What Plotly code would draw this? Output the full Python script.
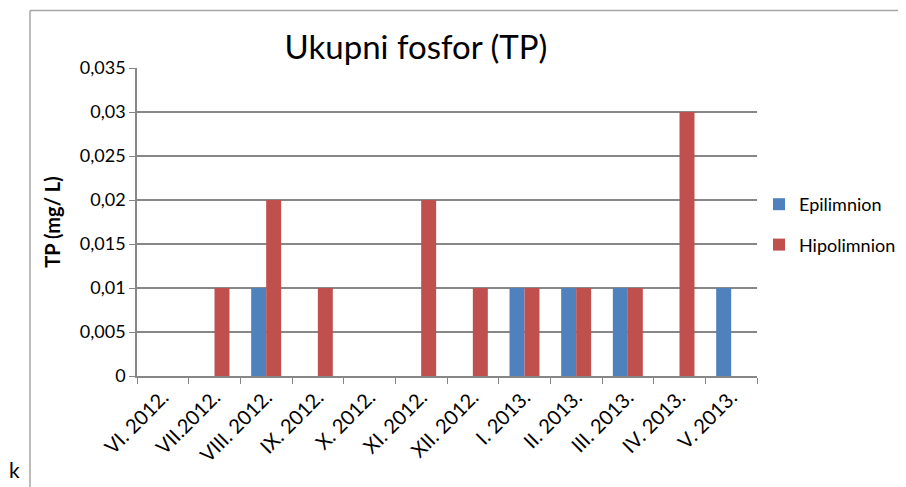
import plotly.graph_objects as go

categories = ["VI. 2012.", "VII.2012.", "VIII. 2012.", "IX. 2012.", "X. 2012.", "XI. 2012.",
              "XII. 2012.", "I. 2013.", "II. 2013.", "III. 2013.", "IV. 2013.", "V. 2013."]
epilimnion = [0, 0, 0.01, 0, 0, 0, 0, 0.01, 0.01, 0.01, 0, 0.01]
hipolimnion = [0, 0.01, 0.02, 0.01, 0, 0.02, 0.01, 0.01, 0.01, 0.01, 0.03, 0]
y_ticks = [0, 0.005, 0.01, 0.015, 0.02, 0.025, 0.03, 0.035]

FONT = "Lato"
GRID = "#878787"

fig = go.Figure()
fig.add_trace(go.Bar(x=categories, y=epilimnion, name="Epilimnion",
                     marker=dict(color="#4F81BD", line=dict(width=0)), legendgroup="a"))
fig.add_trace(go.Bar(x=categories, y=hipolimnion, name="Hipolimnion",
                     marker=dict(color="#C0504D", line=dict(width=0)), legendgroup="b"))

# the page body adds an 8px offset; work in figure pixels = screen pixels - 8
OFF = 8
W, H = 906 - OFF, 487 - OFF
L, R, T, B = 137 - OFF, 757 - OFF, 68 - OFF, 376 - OFF

def px_x(p):
    return (p - OFF - L) / (R - L)

def px_y(p):
    return (B - (p - OFF)) / (B - T)

fig.update_layout(
    width=W, height=H,
    margin=dict(l=L, r=W - R, t=T, b=H - B, autoexpand=False),
    paper_bgcolor="white", plot_bgcolor="white",
    barmode="group", bargap=0.42, bargroupgap=0,
    separators=", ",
    font=dict(family=FONT, size=18, color="black"),
    title=dict(text="Ukupni fosfor (TP)", x=(416 - OFF) / W, xanchor="center",
               y=1 - (47 - OFF) / H, yanchor="middle",
               font=dict(family=FONT, size=33, color="black")),
    legend=dict(x=px_x(759), xanchor="left", y=px_y(186), yanchor="top",
                traceorder="grouped", tracegroupgap=14, itemwidth=30,
                font=dict(family=FONT, size=18, color="black"), bgcolor="rgba(0,0,0,0)"),
    xaxis=dict(showline=True, linecolor=GRID, linewidth=1.5, tickangle=-45,
               ticks="outside", ticklen=6, tickcolor=GRID, tickson="boundaries",
               tickfont=dict(family=FONT, size=20, color="black"), showgrid=False,
               automargin=False),
    yaxis=dict(range=[0, 0.035], tickvals=y_ticks, tickformat=".3~f",
               showline=True, linecolor=GRID, linewidth=1.5,
               ticks="outside", ticklen=6, tickcolor=GRID,
               showgrid=True, gridcolor=GRID, gridwidth=1.5, zeroline=False,
               tickfont=dict(family=FONT, size=18, color="black"), automargin=False,
               title=dict(text="<b>TP (mg/ L)</b>", font=dict(family=FONT, size=20, color="black"),
                          standoff=14)),
    showlegend=True,
)

# chart frame
fig.add_shape(type="line", xref="paper", yref="paper", x0=px_x(30), x1=px_x(920),
              y0=px_y(10.5), y1=px_y(10.5), line=dict(color="#a6a6a6", width=1.5))
fig.add_shape(type="line", xref="paper", yref="paper", x0=px_x(30), x1=px_x(30),
              y0=px_y(10.5), y1=px_y(500), line=dict(color="#a6a6a6", width=1.5))

fig.add_annotation(text="k", xref="paper", yref="paper", x=px_x(14), y=px_y(469),
                   xanchor="center", yanchor="middle", showarrow=False,
                   font=dict(family=FONT, size=21, color="black"))

fig.write_html("out.html")
